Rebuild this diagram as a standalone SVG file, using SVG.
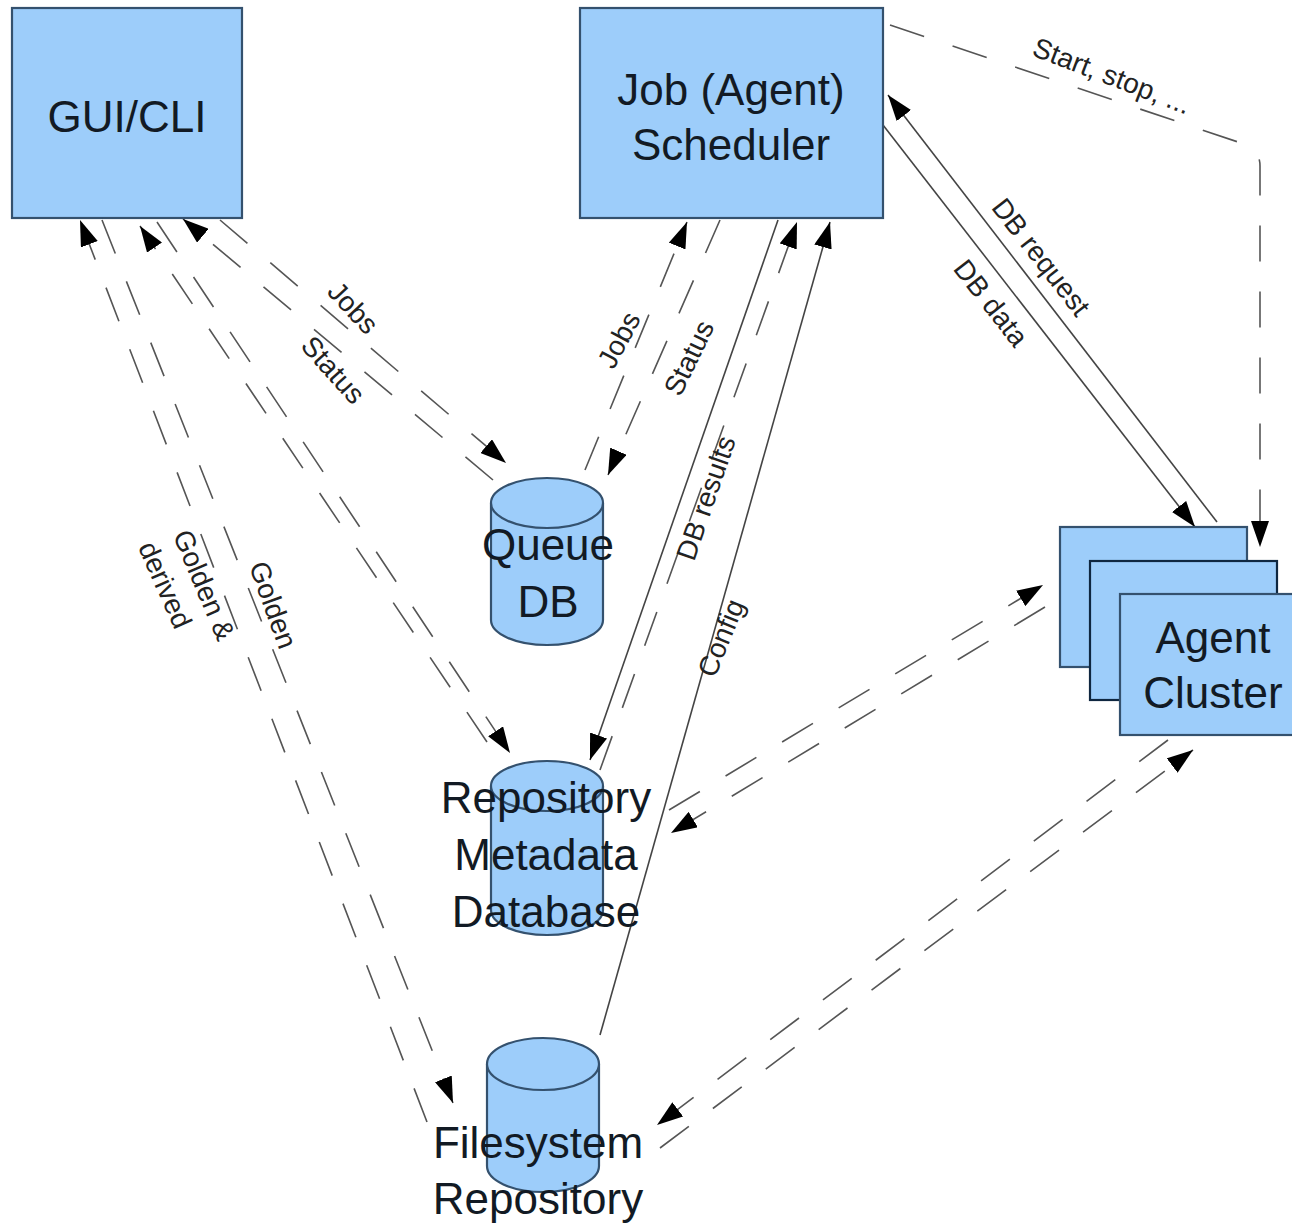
<svg xmlns="http://www.w3.org/2000/svg" width="1292" height="1223" viewBox="0 0 1292 1223">
<style>
.node{fill:#9dcdfa;stroke:#34516e;stroke-width:2.2}
.nt{font-family:"Liberation Sans",Arial,sans-serif;font-size:44px;fill:#121a24;text-anchor:middle}
.lb{font-family:"Liberation Sans",Arial,sans-serif;font-size:28px;fill:#222;text-anchor:middle;dominant-baseline:central}
.d{fill:none;stroke:#555;stroke-width:1.6;stroke-dasharray:36 30}
.s{fill:none;stroke:#444;stroke-width:1.6}
.ar{marker-end:url(#ah)}
</style>
<defs>
<marker id="ah" viewBox="0 0 26 18" refX="26" refY="9" markerWidth="26" markerHeight="18" markerUnits="userSpaceOnUse" orient="auto">
<path d="M0,0 L26,9 L0,18 z" fill="#000"/>
</marker>
</defs>
<rect width="1292" height="1223" fill="#fff"/>

<g id="connectors">
<!-- GUI <-> Queue -->
<line class="d ar" x1="220" y1="220" x2="506" y2="463"/>
<line class="d ar" x1="493" y1="480" x2="183" y2="219"/>
<!-- GUI <-> Repo metadata -->
<line class="d ar" x1="157" y1="222" x2="510" y2="753"/>
<line class="d ar" x1="487" y1="742" x2="140" y2="226"/>
<!-- GUI <-> Filesystem -->
<line class="d ar" x1="102" y1="220" x2="453" y2="1103"/>
<line class="d ar" x1="427" y1="1122" x2="80" y2="220"/>
<!-- Scheduler <-> Queue -->
<line class="d ar" x1="585" y1="470" x2="687" y2="222"/>
<line class="d ar" x1="720" y1="220" x2="608" y2="475"/>
<!-- Scheduler <-> Repo metadata -->
<line class="s ar" x1="778" y1="220" x2="590" y2="760"/>
<line class="d ar" x1="600" y1="770" x2="797" y2="222"/>
<!-- Config -->
<line class="s ar" x1="600" y1="1035" x2="830" y2="222"/>
<!-- Scheduler <-> Agent -->
<line class="s ar" x1="1217" y1="522" x2="888" y2="95"/>
<line class="s ar" x1="883" y1="125" x2="1195" y2="527"/>
<!-- Start, stop -->
<path class="d ar" d="M890,25 L1244,144 Q1260,150 1260,166 L1260,547"/>
<!-- Repo <-> Agent -->
<line class="d ar" x1="669" y1="810" x2="1043" y2="585"/>
<line class="d ar" x1="1045" y1="607" x2="671" y2="833"/>
<!-- Filesystem <-> Agent -->
<line class="d ar" x1="1168" y1="740" x2="657" y2="1125"/>
<line class="d ar" x1="660" y1="1148" x2="1193" y2="750"/>

<text class="lb" transform="translate(353,308) rotate(47)">Jobs</text>
<text class="lb" transform="translate(333,370) rotate(48)">Status</text>
<text class="lb" transform="translate(619,340) rotate(-62)">Jobs</text>
<text class="lb" transform="translate(689,358) rotate(-64)">Status</text>
<text class="lb" transform="translate(706,498) rotate(-71)">DB results</text>
<text class="lb" transform="translate(721,638) rotate(-68)">Config</text>
<text class="lb" transform="translate(1112,76) rotate(21)">Start, stop, ...</text>
<text class="lb" transform="translate(1041,257) rotate(52)">DB request</text>
<text class="lb" transform="translate(991,303) rotate(52)">DB data</text>
<text class="lb" transform="translate(204,585) rotate(67)">Golden &amp;</text>
<text class="lb" transform="translate(165,585) rotate(66)">derived</text>
<text class="lb" transform="translate(273,605) rotate(70)">Golden</text>
</g>

<g id="gui">
<rect class="node" x="12" y="8" width="230" height="210"/>
<text class="nt" x="127" y="132">GUI/CLI</text>
</g>

<g id="scheduler">
<rect class="node" x="580" y="8" width="303" height="210"/>
<text class="nt" x="731" y="105">Job (Agent)</text>
<text class="nt" x="731" y="160">Scheduler</text>
</g>

<g id="queue-db">
<path class="node" d="M491,503 A56,25 0 0 1 603,503 L603,620 A56,25 0 0 1 491,620 Z"/>
<path class="node" d="M491,503 A56,25 0 0 0 603,503" fill="none"/>
<text class="nt" x="548" y="560">Queue</text>
<text class="nt" x="548" y="617">DB</text>
</g>

<g id="repo-metadata">
<path class="node" d="M491,786 A56,25 0 0 1 603,786 L603,910 A56,25 0 0 1 491,910 Z"/>
<path class="node" d="M491,786 A56,25 0 0 0 603,786" fill="none"/>
<text class="nt" x="546" y="813">Repository</text>
<text class="nt" x="546" y="870">Metadata</text>
<text class="nt" x="546" y="927">Database</text>
</g>

<g id="filesystem">
<path class="node" d="M487,1064 A56,26 0 0 1 599,1064 L599,1166 A56,26 0 0 1 487,1166 Z"/>
<path class="node" d="M487,1064 A56,26 0 0 0 599,1064" fill="none"/>
<text class="nt" x="538" y="1158">Filesystem</text>
<text class="nt" x="538" y="1214">Repository</text>
</g>

<g id="agent-cluster">
<rect class="node" x="1060" y="527" width="187" height="140"/>
<rect class="node" x="1090" y="561" width="187" height="139" style="stroke:#0f2740"/>
<rect class="node" x="1120" y="594" width="187" height="141"/>
<text class="nt" x="1213" y="653">Agent</text>
<text class="nt" x="1213" y="708">Cluster</text>
</g>
</svg>
